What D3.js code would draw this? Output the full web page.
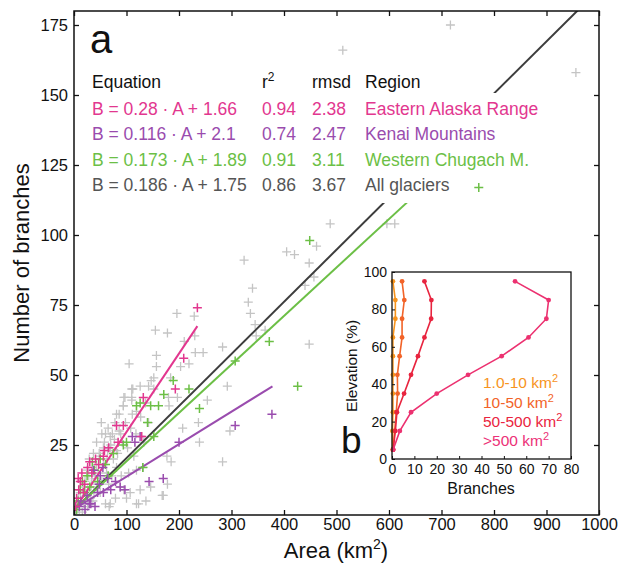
<!DOCTYPE html>
<html><head><meta charset="utf-8">
<script src="https://cdn.jsdelivr.net/npm/d3@7"></script>
<style>body{margin:0;background:#fff}svg{display:block;font-family:"Liberation Sans",Arial,sans-serif}</style>
</head><body><svg id="c" width="619" height="571"></svg>
<script>
// ---------- DATA ----------
const xTicks = [0,100,200,300,400,500,600,700,800,900,1000];
const yTicks = [25,50,75,100,125,150,175];

// all glaciers (gray)  [area km2, branches]
const allGlaciers = [
[512,166],[717,175],[956,158],[488,104],[596,104],[611,104],[405,94],[420,93],[462,96],[448,90],[457,85],[440,82],
[324,91],[340,81],[332,76],[336,72],[345,68],[364,66],[347,64],[246,58],[231,58],[283,60],[448,61],[292,46],[254,41],
[237,33],[207,31],[297,30],[239,26],[283,19],[196,72],[229,71],[155,66],[178,65],[210,62],[230,64],[203,53],[219,54],
[157,57],[105,54],[157,53],[152,49],[147,48],[184,49],[112,45],[110,42],[95,42],[152,45],[197,42],[180,42],[94,39],
[181,39],[86,36],[111,36],[52,33],[73,29],[60,29],[89,29],[133,26],[81,23],[64,23],[29,20],[25,16],[146,10],[119,4],
[137,5],[168,7],[185,19],[177,21],[178,11],[170,7],[123,4],[60,4],[67,3],
[110,45],[126,46],[142,46],[97,42],[110,41],[94,39],[119,37],[81,36],[78,33],[65,31],[53,29],[69,28],[43,26],[56,24],
[69,24],[37,22],[50,21],[75,20],[43,18],[81,17],[62,15],[34,14],[104,15],[119,16],[132,17],[88,10],[107,8],[126,9],
[50,8],[100,6],[69,4],
[5,3],[8,6],[10,2],[12,8],[14,5],[17,10],[19,4],[21,12],[23,7],[26,9],[28,14],[31,6],[33,11],[35,17],[38,8],[40,13],
[43,10],[46,15],[48,22],[53,12],[56,18],[58,26],[63,20],[66,11],[70,25],[72,14],[77,27],[83,22],[86,30],[92,26],
[98,33],[102,24],[108,31],[114,21],[118,29],[127,35],[136,40],[142,33],[90,14],[79,6],[95,9],[3,1],[16,1],[26,3],[36,5]
];
// Eastern Alaska Range (pink)
const easternAlaska = [
[235,74],[209,56],[193,45],[132,42],[129,28],[81,32],[94,32],[84,26],[58,23],[56,21],[41,20],[34,15],[15,15],[9,9],
[20,11],[5,6],[26,17],[12,12],[30,19],[47,18],[66,24],[3,3],[8,13],[18,8]
];
// Kenai Mountains (purple)
const kenai = [
[377,36],[307,32],[200,26],[111,28],[126,28],[116,26],[170,13],[143,12],[97,9],[79,12],[64,13],[32,4],[13,5],[37,16],
[50,14],[70,9],[21,2],[45,8],[40,3],[56,8],[88,10],[55,17],[25,7],[10,3],[48,11],[29,4]
];
// Western Chugach M. (green)
const chugach = [
[771,117],[449,98],[372,62],[426,46],[307,55],[219,45],[239,38],[189,48],[171,43],[161,39],[146,39],[140,33],[126,40],
[119,39],[152,28],[131,17],[94,25],[39,16],[25,14],[16,12],[60,18],[75,22],[50,20],[30,10],[8,5],[20,8],[100,26],
[45,12],[65,14],[35,19],[12,9],[5,2]
];

// regression fits
const fitSlope = [0.28, 0.116, 0.173, 0.186];
const fitIntercept = [1.66, 2.1, 1.89, 1.75];
const fitMaxArea = [235, 378, 700, 1000];

// legend table
const equations = ["B = 0.28 \u00b7 A + 1.66","B = 0.116 \u00b7 A + 2.1","B = 0.173 \u00b7 A + 1.89","B = 0.186 \u00b7 A + 1.75"];
const r2Values = ["0.94","0.74","0.91","0.86"];
const rmsdValues = ["2.38","2.47","3.11","3.67"];
const regions = ["Eastern Alaska Range","Kenai Mountains","Western Chugach M.","All glaciers"];

// inset b
const elevation = [5,15,25,35,45,55,65,75,85,95];
const br1to10 = [0.3,0.2,0.4,0.4,0.4,0.4,0.4,1.5,1.5,0.4];
const br10to50 = [0.5,1.2,1.9,2.5,2.4,3.4,4.5,4.5,5.5,4.5];
const br50to500 = [0.5,1.5,2.2,5.4,8.5,11.6,14.5,17.5,17.6,14.5];
const brOver500 = [0.5,3.5,8.5,20,34,49,61,69,70,55];
const insetLabels = ["1.0-10 km","10-50 km","50-500 km",">500 km"];
const insetXTicks = [0,10,20,30,40,50,60,70,80];
const insetYTicks = [0,20,40,60,80,100];

// ---------- STYLE ----------
const cPink = "#e2378f", cPurple = "#9a4cae", cGreen = "#6cbf46", cDark = "#3d3d3d", cGray = "#c4c4c4";
const regionColors = [cPink, cPurple, cGreen, "#555555"];
const lineColors = [cPink, cPurple, cGreen, cDark];
const insetColors = ["#f7941d","#f26328","#e8243f","#ec3170"];
const insetTextColors = ["#f7941d","#f26328","#ea2440","#ec3178"];

const svg = d3.select("#c");
svg.append("rect").attr("width",619).attr("height",571).attr("fill","#fff");

const x = d3.scaleLinear([0,1000],[74,599]);
const y = d3.scaleLinear([0,180],[515,11]);

const defs = svg.append("defs");
defs.append("clipPath").attr("id","clipMain").append("rect")
  .attr("x",74).attr("y",11).attr("width",525).attr("height",504);

function cross(s){ return d => `M${x(d[0])-s},${y(d[1])}H${x(d[0])+s}M${x(d[0])},${y(d[1])-s}V${y(d[1])+s}`; }

// layer 1: gray points + regression lines
const under = svg.append("g").attr("clip-path","url(#clipMain)");
under.append("g").selectAll("path").data(allGlaciers).join("path")
  .attr("d",cross(4.5)).attr("stroke",cGray).attr("stroke-width",1.3).attr("fill","none");
[3,2,1,0].forEach(i=>{
  const pts = [0, fitMaxArea[i]].map(a=>[a, fitSlope[i]*a+fitIntercept[i]]);
  under.append("path").attr("d", d3.line().x(d=>x(d[0])).y(d=>y(d[1]))(pts))
    .attr("stroke",lineColors[i]).attr("stroke-width",2).attr("fill","none");
});

// layer 2: white box behind the legend table
svg.append("rect").attr("x",84).attr("y",93).attr("width",480).attr("height",110).attr("fill","#fff");

// layer 3: colored points
const over = svg.append("g").attr("clip-path","url(#clipMain)");
[[chugach,cGreen],[kenai,cPurple],[easternAlaska,cPink]].forEach(([data,col])=>{
  over.append("g").selectAll("path").data(data).join("path")
    .attr("d",cross(4.5)).attr("stroke",col).attr("stroke-width",1.5).attr("fill","none");
});

// axes
const fs = "16.5px";
const ax = d3.axisBottom(x).tickValues(xTicks).tickFormat(d3.format("d")).tickSizeInner(-5).tickSizeOuter(0);
const gxB = svg.append("g").attr("transform","translate(0,515)").call(ax);
gxB.select(".domain").remove();
gxB.selectAll("text").attr("y",15).attr("dy",0).style("font-size",fs).attr("fill","#111").attr("font-family",null);
gxB.selectAll("line").attr("stroke","#111").attr("stroke-width",1.3);
const gxT = svg.append("g").attr("transform","translate(0,11)").call(d3.axisTop(x).tickValues(xTicks).tickSizeInner(-5).tickSizeOuter(0).tickFormat(""));
gxT.select(".domain").remove(); gxT.selectAll("line").attr("stroke","#111").attr("stroke-width",1.3);

const gyL = svg.append("g").attr("transform","translate(74,0)").call(d3.axisLeft(y).tickValues(yTicks).tickSizeInner(-5).tickSizeOuter(0).tickPadding(6));
gyL.select(".domain").remove();
gyL.selectAll("text").style("font-size",fs).attr("fill","#111").attr("font-family",null);
gyL.selectAll("line").attr("stroke","#111").attr("stroke-width",1.3);
const gyR = svg.append("g").attr("transform","translate(599,0)").call(d3.axisRight(y).tickValues(yTicks).tickSizeInner(-5).tickSizeOuter(0).tickFormat(""));
gyR.select(".domain").remove(); gyR.selectAll("line").attr("stroke","#111").attr("stroke-width",1.3);

svg.append("rect").attr("x",74).attr("y",11).attr("width",525).attr("height",504)
  .attr("fill","none").attr("stroke","#111").attr("stroke-width",1.5);

// axis titles
svg.append("text").attr("transform","translate(29,263) rotate(-90)").attr("text-anchor","middle")
  .style("font-size","22px").attr("fill","#111").text("Number of branches");
const xt = svg.append("text").attr("x",336).attr("y",558).attr("text-anchor","middle").style("font-size","22px").attr("fill","#111");
xt.append("tspan").text("Area (km");
xt.append("tspan").attr("dy",-9).style("font-size","14px").text("2");
xt.append("tspan").attr("dy",9).text(")");

// panel a label + table
svg.append("text").attr("x",90).attr("y",53).style("font-size","40px").attr("fill","#111").text("a");
const tf = "17.5px";
const colX = [92, 262, 312, 365];
const hdrY = 88, rowY = [115,140,165.5,190.5];
const hdr = svg.append("g").style("font-size",tf).attr("fill","#111");
hdr.append("text").attr("x",colX[0]).attr("y",hdrY).text("Equation");
const r2t = hdr.append("text").attr("x",colX[1]).attr("y",hdrY);
r2t.append("tspan").text("r"); r2t.append("tspan").attr("dy",-7).style("font-size","12px").text("2");
hdr.append("text").attr("x",colX[2]).attr("y",hdrY).text("rmsd");
hdr.append("text").attr("x",colX[3]).attr("y",hdrY).text("Region");
regions.forEach((r,i)=>{
  const g = svg.append("g").style("font-size",tf).attr("fill",regionColors[i]);
  g.append("text").attr("x",colX[0]).attr("y",rowY[i]).text(equations[i]);
  g.append("text").attr("x",colX[1]).attr("y",rowY[i]).text(r2Values[i]);
  g.append("text").attr("x",colX[2]).attr("y",rowY[i]).text(rmsdValues[i]);
  g.append("text").attr("x",colX[3]).attr("y",rowY[i]).text(r);
});

// ---------- INSET b ----------
const ix = d3.scaleLinear([0,80],[392,571]);
const iy = d3.scaleLinear([0,100],[459,272]);
svg.append("rect").attr("x",392).attr("y",272).attr("width",179).attr("height",187).attr("fill","#fff");
const series = [br1to10, br10to50, br50to500, brOver500];
series.forEach((s,i)=>{
  const pts = s.map((v,k)=>[v, elevation[k]]);
  svg.append("path").attr("d", d3.line().x(d=>ix(d[0])).y(d=>iy(d[1]))(pts))
    .attr("stroke",insetColors[i]).attr("stroke-width",1.6).attr("fill","none");
  svg.append("g").selectAll("circle").data(pts).join("circle")
    .attr("cx",d=>ix(d[0])).attr("cy",d=>iy(d[1])).attr("r",2.4).attr("fill",insetColors[i]);
});
const ifs = "14px";
const igx = svg.append("g").attr("transform","translate(0,459)").call(d3.axisBottom(ix).tickValues(insetXTicks).tickSizeInner(-3).tickSizeOuter(0));
igx.select(".domain").remove();
igx.selectAll("text").attr("y",15).attr("dy",0).style("font-size",ifs).attr("fill","#111").attr("font-family",null);
igx.selectAll("line").attr("stroke","#111");
const igy = svg.append("g").attr("transform","translate(392,0)").call(d3.axisLeft(iy).tickValues(insetYTicks).tickSizeInner(-3).tickSizeOuter(0).tickPadding(5));
igy.select(".domain").remove();
igy.selectAll("text").style("font-size",ifs).attr("fill","#111").attr("font-family",null);
igy.selectAll("line").attr("stroke","#111");
svg.append("rect").attr("x",392).attr("y",272).attr("width",179).attr("height",187)
  .attr("fill","none").attr("stroke","#111").attr("stroke-width",1.3);
svg.append("text").attr("x",481).attr("y",494).attr("text-anchor","middle").style("font-size","16px").attr("fill","#111").text("Branches");
svg.append("text").attr("transform","translate(357,366) rotate(-90)").attr("text-anchor","middle")
  .style("font-size","15.5px").attr("fill","#111").text("Elevation (%)");
svg.append("text").attr("x",341).attr("y",453).style("font-size","37px").attr("fill","#111").text("b");
const legY = [388,407.5,426.5,446];
insetLabels.forEach((l,i)=>{
  const t = svg.append("text").attr("x",483).attr("y",legY[i]).style("font-size","15.5px").attr("fill",insetTextColors[i]);
  t.append("tspan").text(l);
  t.append("tspan").attr("dy",-6).style("font-size","11px").text("2");
});
</script></body></html>
